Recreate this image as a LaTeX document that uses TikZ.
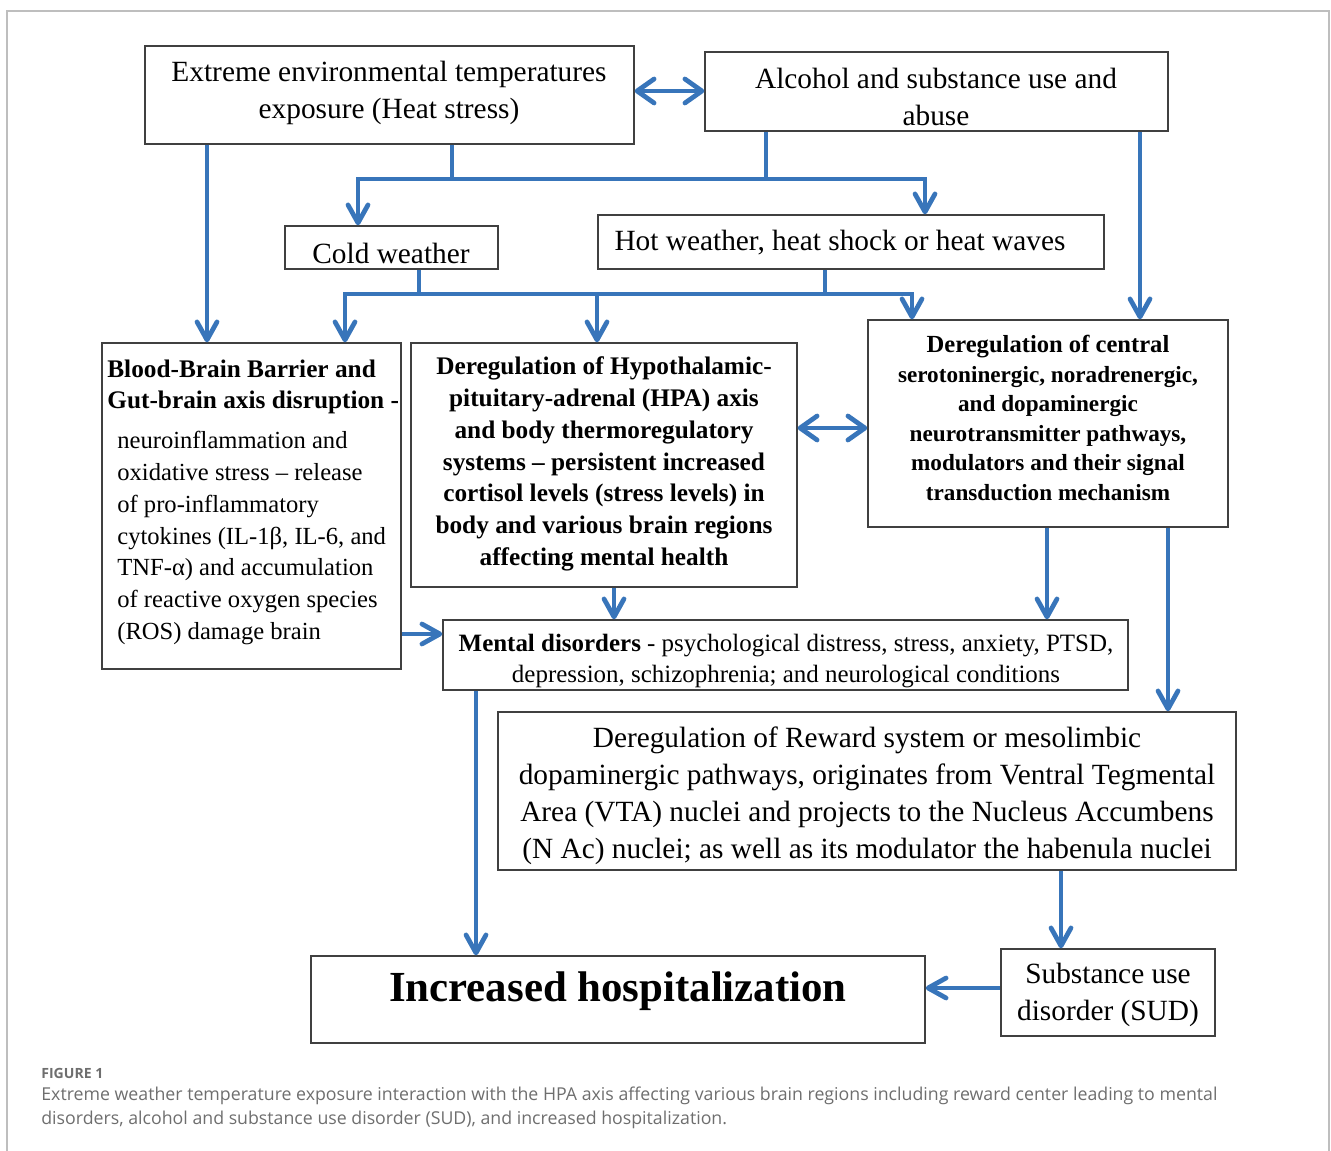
\documentclass[tikz,border=0pt]{standalone}
\usepackage{fontspec}
\setmainfont{Liberation Serif}
\newfontfamily\capfont{Open Sans}
\usetikzlibrary{arrows.meta,fit}
\definecolor{flowblue}{RGB}{56,117,186}
\definecolor{capgray}{RGB}{110,110,110}
\newcommand\BodyFont{\fontsize{16.7}{21}\selectfont}
\newcommand\HeadFont{\fontsize{14.4}{18.1}\selectfont\bfseries}
\newcommand\NoteFont{\fontsize{14}{18.1}\selectfont}
\newcommand\FlowBox[3]{%
    \node[box, fit={(#2) (#3)}] (#1) {};
}

\begin{document}
\begin{tikzpicture}[x=0.02cm, y=-0.02cm,
    box/.style={draw=black!75, line width=0.8pt, inner sep=0pt},
    txt/.style={inner sep=0pt, align=center, font=\BodyFont},
    flow/.style={draw=flowblue, line width=2.7pt, -{Straight Barb[length=0.36cm, width=0.40cm, round]}},
    fork/.style={flow, {Straight Barb[length=0.36cm, width=0.40cm, round]}-{Straight Barb[length=0.36cm, width=0.40cm, round]}},
    twoway/.style={flow, {Straight Barb[length=0.34cm, width=0.48cm, round]}-{Straight Barb[length=0.34cm, width=0.48cm, round]}},
    bar/.style={draw=flowblue, line width=2.7pt}]
    \useasboundingbox (0,0) rectangle (1331,1151);
    \draw[capgray!45, line width=0.6pt] (7,1151) -- (7,11) -- (1329,11) -- (1329,1151);

    % boxes
    \FlowBox{ext}{145,46}{634,144}
    \FlowBox{alc}{705,52}{1168,131}
    \FlowBox{cold}{285,226}{498,269}
    \FlowBox{hot}{598,215}{1104,269}
    \FlowBox{bbb}{102,343}{401,669}
    \FlowBox{hpa}{411,343}{797,587}
    \FlowBox{neu}{868,320}{1228,527}
    \FlowBox{mental}{443,620}{1128,690}
    \FlowBox{reward}{498,712}{1236,870}
    \FlowBox{hosp}{311,956}{925,1043}
    \FlowBox{sud}{1001,949}{1215,1036}

    % texts
    \node[txt] (extText) at (389,93) {Extreme environmental temperatures\\exposure (Heat stress)};
    \node[txt] (alcText) at (936,97) {Alcohol and substance use and\\abuse};
    \node[txt] (coldText) at (391,253) {Cold weather};
    \node[txt] (hotText) at (840,243) {Hot weather, heat shock or heat waves};
    \node[txt, font=\HeadFont, align=left, anchor=west] (bbbHead) at (107,387)
        {Blood-Brain Barrier and\\Gut-brain axis disruption -};
    \node[txt, font=\NoteFont, align=left, anchor=west] (bbbNote) at (117,538)
        {neuroinflammation and\\oxidative stress – release\\of pro-inflammatory\\cytokines (IL-1β, IL-6, and\\TNF-α) and accumulation\\of reactive oxygen species\\(ROS) damage brain};
    \node[txt, font=\HeadFont] (hpaText) at (604,464)
        {Deregulation of Hypothalamic-\\pituitary-adrenal (HPA) axis\\and body thermoregulatory\\systems – persistent increased\\cortisol levels (stress levels) in\\body and various brain regions\\affecting mental health};
    \node[txt, font=\fontsize{13.2}{16.8}\selectfont\bfseries] (neuText) at (1048,418)
        {{\fontsize{14}{16.8}\selectfont Deregulation of central}\\serotoninergic, noradrenergic,\\and dopaminergic\\neurotransmitter pathways,\\modulators and their signal\\transduction mechanism};
    \node[txt, font=\fontsize{14.2}{18.1}\selectfont] (mentalText) at (786,661)
        {\textbf{Mental disorders} - psychological distress, stress, anxiety, PTSD,\\depression, schizophrenia; and neurological conditions};
    \node[txt] (rewardText) at (867,796)
        {Deregulation of Reward system or mesolimbic\\dopaminergic pathways, originates from Ventral Tegmental\\Area (VTA) nuclei and projects to the Nucleus Accumbens\\(N Ac) nuclei; as well as its modulator the habenula nuclei};
    \node[txt, font=\fontsize{24.4}{28}\selectfont\bfseries] (hospText) at (618,991) {Increased hospitalization};
    \node[txt] (sudText) at (1108,995) {Substance use\\disorder (SUD)};

    % caption
    \node[anchor=west, inner sep=0pt, text=capgray, font=\capfont\fontsize{8}{10}\selectfont\bfseries] (figLabel) at (41,1073) {FIGURE 1};
    \node[anchor=west, inner sep=0pt, align=left, text=capgray, font=\capfont\fontsize{10.1}{13.6}\selectfont] (figCaption) at (41,1108)
        {Extreme weather temperature exposure interaction with the HPA axis affecting various brain regions including reward center leading to mental\\disorders, alcohol and substance use disorder (SUD), and increased hospitalization.};

    % connectors
    \draw[twoway] (ext.east |- 0,91) -- (alc.west |- 0,91);
    \draw[flow] (ext.south -| 207,0) -- (bbb.north -| 207,0);
    \coordinate (upL) at (358,179);
    \coordinate (upR) at (925,179);
    \draw[bar] (ext.south -| 452,0) -- (452,179);
    \draw[bar] (alc.south -| 766,0) -- (766,179);
    \draw[fork] (cold.north -| upL) -- (upL) -- (upR) -- (hot.north -| upR);
    \coordinate (lowL) at (345,294);
    \coordinate (lowR) at (912,294);
    \draw[bar] (cold.south -| 419,0) -- (419,294);
    \draw[bar] (hot.south -| 825,0) -- (825,294);
    \draw[fork] (bbb.north -| lowL) -- (lowL) -- (lowR) -- (neu.north -| lowR);
    \draw[flow] (597,294) -- (hpa.north -| 597,0);
    \draw[flow] (alc.south -| 1140,0) -- (neu.north -| 1140,0);
    \draw[twoway] (hpa.east |- 0,428) -- (neu.west |- 0,428);
    \draw[flow] (hpa.south -| 614,0) -- (mental.north -| 614,0);
    \draw[flow] (bbb.east |- 0,634) -- (mental.west |- 0,634);
    \draw[flow] (neu.south -| 1047,0) -- (mental.north -| 1047,0);
    \draw[flow] (neu.south -| 1168,0) -- (reward.north -| 1168,0);
    \draw[flow] (mental.south -| 476,0) -- (hosp.north -| 476,0);
    \draw[flow] (reward.south -| 1061,0) -- (sud.north -| 1061,0);
    \draw[flow] (sud.west |- 0,988) -- (hosp.east |- 0,988);
\end{tikzpicture}
\end{document}
